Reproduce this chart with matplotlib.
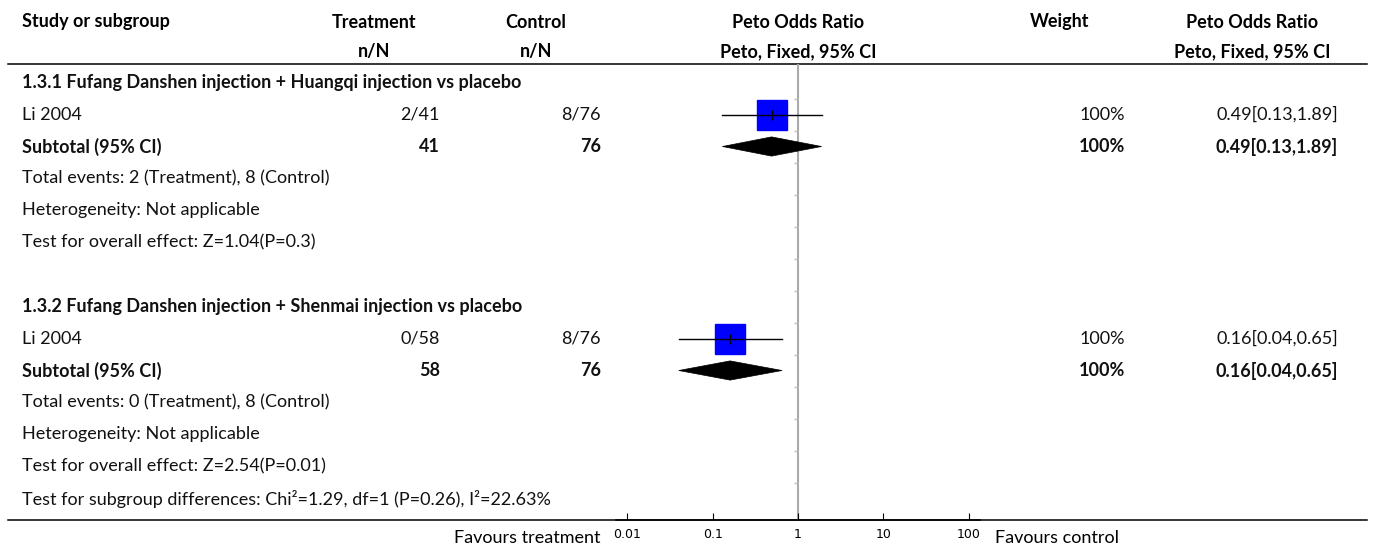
import matplotlib.pyplot as plt
from matplotlib.patches import Polygon
from matplotlib.ticker import NullLocator

plt.rcParams['font.family'] = ['Lato', 'DejaVu Sans']

# ---- data ----
headings = ['1.3.1 Fufang Danshen injection + Huangqi injection vs placebo',
            '1.3.2 Fufang Danshen injection + Shenmai injection vs placebo']
studies = ['Li 2004', 'Li 2004']
treat_events = [2, 0]
treat_total = [41, 58]
ctrl_events = [8, 8]
ctrl_total = [76, 76]
weights = [100, 100]
or_est = [0.49, 0.16]
or_lo = [0.13, 0.04]
or_hi = [1.89, 0.65]
sub_est = [0.49, 0.16]
sub_lo = [0.13, 0.04]
sub_hi = [1.89, 0.65]
sub_weight = [100, 100]
hetero = ['Not applicable', 'Not applicable']
overall = ['Z=1.04(P=0.3)', 'Z=2.54(P=0.01)']
subgroup_test = 'Test for subgroup differences: Chi²=1.29, df=1 (P=0.26), I²=22.63%'
xticks = [0.01, 0.1, 1, 10, 100]
xtick_labels = ['0.01', '0.1', '1', '10', '100']

# ---- layout (pixels) ----
W, H = 1373, 550
FS = 13
row0, row_h = 82.5, 32.0
top_line, bot_line = 64, 520
ax_left, ax_w = 616.3, 363.4

fig = plt.figure(figsize=(W / 100, H / 100), dpi=100)
tab = fig.add_axes([0, 0, 1, 1])
tab.set_xlim(0, W)
tab.set_ylim(H, 0)
tab.axis('off')

ax = fig.add_axes([ax_left / W, (H - bot_line) / H, ax_w / W, (bot_line - top_line) / H])
ax.patch.set_alpha(0)
ax.set_xscale('log')
ax.set_xlim(10 ** -2.13, 10 ** 2.13)
ax.set_ylim((bot_line - row0) / row_h, (top_line - row0) / row_h)
for s in ['top', 'left', 'right']:
    ax.spines[s].set_visible(False)
ax.spines['bottom'].set_linewidth(1.1)
ax.set_yticks([])
ax.set_xticks(xticks)
ax.set_xticklabels(xtick_labels)
ax.xaxis.set_minor_locator(NullLocator())
ax.tick_params(axis='x', direction='in', length=5, width=0.8, labelsize=9, pad=6)
for lab in ax.get_xticklabels():
    lab.set_fontfamily('DejaVu Sans')


def ypx(r):
    return row0 + row_h * r


def txt(x, r, s, ha='left', bold=False):
    tab.text(x, ypx(r), s, ha=ha, va='center', fontsize=FS,
             fontweight='bold' if bold else 'normal', color='#111111')


# header
for x, a, b in [(374, 'Treatment', 'n/N'), (536, 'Control', 'n/N'),
                (798, 'Peto Odds Ratio', 'Peto, Fixed, 95% CI'),
                (1060, 'Weight', ''), (1252, 'Peto Odds Ratio', 'Peto, Fixed, 95% CI')]:
    tab.text(x, 22, a, ha='center', va='center', fontsize=FS, fontweight='bold')
    if b:
        tab.text(x, 52, b, ha='center', va='center', fontsize=FS, fontweight='bold')
tab.text(22, 22, 'Study or subgroup', ha='left', va='center', fontsize=FS, fontweight='bold')

tab.plot([8, 1367], [top_line, top_line], color='black', lw=1.1)
tab.plot([8, 1367], [bot_line, bot_line], color='black', lw=1.1)

# null line with little row marks
ax.axvline(1, color='#aaaaaa', lw=1.5, zorder=1)
ax.plot([1] * 13, [i + 0.5 for i in range(13)], ls='none', marker=0,
        ms=3, color='#bbbbbb', zorder=1)

for g in range(2):
    b = 7 * g
    txt(22, b, headings[g], bold=True)
    # study row
    r = b + 1
    txt(22, r, studies[g])
    txt(440, r, f'{treat_events[g]}/{treat_total[g]}', ha='right')
    txt(601, r, f'{ctrl_events[g]}/{ctrl_total[g]}', ha='right')
    txt(1125, r, f'{weights[g]}%', ha='right')
    txt(1338, r, f'{or_est[g]:.2f}[{or_lo[g]:.2f},{or_hi[g]:.2f}]', ha='right')
    ax.plot(or_est[g], r, marker='s', ms=22.3 * (weights[g] / 100) ** 0.5,
            color='#0000ff', mec='#0000ff', zorder=2)
    ax.plot([or_lo[g], or_hi[g]], [r, r], color='black', lw=1, zorder=3)
    ax.plot(or_est[g], r, marker='|', ms=6.5, mew=1, color='black', zorder=3)
    # subtotal
    r = b + 2
    txt(22, r, 'Subtotal (95% CI)', bold=True)
    txt(440, r, f'{treat_total[g]}', ha='right', bold=True)
    txt(601, r, f'{ctrl_total[g]}', ha='right', bold=True)
    txt(1125, r, f'{sub_weight[g]}%', ha='right', bold=True)
    txt(1338, r, f'{sub_est[g]:.2f}[{sub_lo[g]:.2f},{sub_hi[g]:.2f}]', ha='right', bold=True)
    ax.add_patch(Polygon([(sub_lo[g], r), (sub_est[g], r - 0.3),
                          (sub_hi[g], r), (sub_est[g], r + 0.3)],
                         closed=True, fc='black', ec='black', lw=0.5, zorder=3))
    txt(22, b + 3, f'Total events: {treat_events[g]} (Treatment), {ctrl_events[g]} (Control)')
    txt(22, b + 4, f'Heterogeneity: {hetero[g]}')
    txt(22, b + 5, f'Test for overall effect: {overall[g]}')

txt(22, 13, subgroup_test)

tab.text(600, 538, 'Favours treatment', ha='right', va='center', fontsize=FS)
tab.text(995, 538, 'Favours control', ha='left', va='center', fontsize=FS)

fig.savefig('out.png', dpi=100)
